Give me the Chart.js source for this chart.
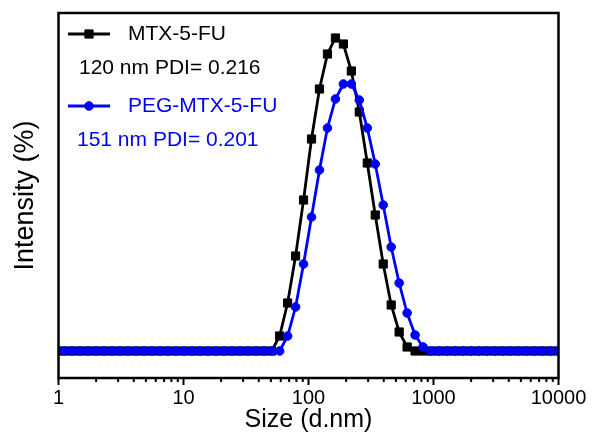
<!DOCTYPE html>
<html>
<head>
<meta charset="utf-8">
<script src="https://cdn.jsdelivr.net/npm/chart.js@4.4.1/dist/chart.umd.min.js"></script>
<style>
  html, body { margin: 0; padding: 0; background: #fff; }
  #wrap { width: 595px; height: 436px; }
</style>
</head>
<body>
<div id="wrap"><canvas id="chartSize"></canvas></div>
<script>
  // size classes (d.nm)
  var sizes = [0.9649, 1.117, 1.294, 1.499, 1.736, 2.010, 2.328, 2.696, 3.122, 3.615,
    4.187, 4.849, 5.615, 6.503, 7.531, 8.721, 10.10, 11.70, 13.54, 15.69,
    18.17, 21.04, 24.36, 28.21, 32.67, 37.84, 43.82, 50.75, 58.77, 68.06,
    78.82, 91.28, 105.7, 122.4, 141.8, 164.2, 190.1, 220.2, 255.0, 295.3,
    342.0, 396.1, 458.7, 531.2, 615.1, 712.4, 825.0, 955.4, 1106, 1281,
    1484, 1718, 1990, 2305, 2669, 3091, 3580, 4145, 4801, 5560,
    6439, 7456, 8635, 10000];

  // intensity (%)
  var mtx = [0, 0, 0, 0, 0, 0, 0, 0, 0, 0,
    0, 0, 0, 0, 0, 0, 0, 0, 0, 0,
    0, 0, 0, 0, 0, 0, 0, 0, 0.75, 2.4,
    4.75, 7.55, 10.6, 13.1, 14.85, 15.65, 15.35, 14.0, 11.95, 9.4,
    6.8, 4.35, 2.3, 0.95, 0.2, 0, 0, 0, 0, 0,
    0, 0, 0, 0, 0, 0, 0, 0, 0, 0,
    0, 0, 0, 0];
  var pegMtx = [0, 0, 0, 0, 0, 0, 0, 0, 0, 0,
    0, 0, 0, 0, 0, 0, 0, 0, 0, 0,
    0, 0, 0, 0, 0, 0, 0, 0, 0, 0.75,
    2.2, 4.35, 6.7, 9.05, 11.15, 12.6, 13.35, 13.35, 12.55, 11.15,
    9.35, 7.3, 5.2, 3.4, 1.9, 0.8, 0.2, 0, 0, 0,
    0, 0, 0, 0, 0, 0, 0, 0, 0, 0,
    0, 0, 0, 0];

  var xTicks = [1, 10, 100, 1000, 10000];
  var legendNames = ["MTX-5-FU", "PEG-MTX-5-FU"];
  var legendNotes = ["120 nm PDI= 0.216", "151 nm PDI= 0.201"];

  var FONT = '"Liberation Sans", Arial, sans-serif';

  function toXY(ys) {
    return sizes.map(function (s, i) { return {x: s, y: ys[i]}; });
  }

  // box round the plot + the ticks under the x axis
  var framePlugin = {
    id: 'frame',
    afterDraw: function (chart) {
      var ctx = chart.ctx;
      var a = chart.chartArea;
      var xs = chart.scales.x;
      ctx.save();
      ctx.strokeStyle = '#000';
      ctx.lineWidth = 2.5;
      ctx.strokeRect(a.left, a.top, a.right - a.left, a.bottom - a.top);
      ctx.lineWidth = 2;
      ctx.beginPath();
      for (var k = 0; k < 4; k++) {
        for (var m = 1; m <= 9; m++) {
          var px = xs.getPixelForValue(m * Math.pow(10, k));
          ctx.moveTo(px, a.bottom);
          ctx.lineTo(px, a.bottom + (m === 1 ? 7 : 4));
        }
      }
      var pEnd = xs.getPixelForValue(10000);
      ctx.moveTo(pEnd, a.bottom);
      ctx.lineTo(pEnd, a.bottom + 7);
      ctx.stroke();
      ctx.restore();
    }
  };

  // legend in the top left corner
  var legendPlugin = {
    id: 'cornerLegend',
    afterDraw: function (chart) {
      var ctx = chart.ctx;
      var rows = [
        {color: '#000000', style: 'rect', radius: 5.8, y: 34, noteX: 79, noteY: 68},
        {color: '#0000ff', style: 'circle', radius: 4.3, y: 106, noteX: 77, noteY: 140}
      ];
      ctx.save();
      rows.forEach(function (r, i) {
        ctx.strokeStyle = r.color;
        ctx.fillStyle = r.color;
        ctx.lineWidth = 2.8;
        ctx.beginPath();
        ctx.moveTo(68, r.y);
        ctx.lineTo(110, r.y);
        ctx.stroke();
        ctx.lineWidth = 1;
        Chart.helpers.drawPoint(ctx, {pointStyle: r.style, radius: r.radius, borderWidth: 1, rotation: 0}, 89, r.y);
        ctx.font = '21px ' + FONT;
        ctx.textBaseline = 'middle';
        ctx.textAlign = 'left';
        ctx.fillText(legendNames[i], 128, r.y);
        ctx.fillText(legendNotes[i], r.noteX, r.noteY);
      });
      ctx.restore();
    }
  };

  new Chart('chartSize', {
    type: 'line',
    data: {
      datasets: [
        {
          label: legendNames[0],
          data: toXY(mtx),
          borderColor: '#000000',
          backgroundColor: '#000000',
          borderWidth: 2.8,
          pointStyle: 'rect',
          pointRadius: 5.8,
          pointBorderWidth: 1,
          order: 1,
          clip: 0
        },
        {
          label: legendNames[1],
          data: toXY(pegMtx),
          borderColor: '#0000ff',
          backgroundColor: '#0000ff',
          borderWidth: 2.8,
          pointStyle: 'circle',
          pointRadius: 4.3,
          pointBorderWidth: 1,
          order: 0,
          clip: 0
        }
      ]
    },
    options: {
      responsive: true,
      maintainAspectRatio: false,
      animation: false,
      layout: {padding: {top: 13, right: 36.5, left: 0, bottom: 0}},
      scales: {
        x: {
          type: 'logarithmic',
          min: 1,
          max: 10000,
          afterFit: function (scale) { scale.height = 58; },
          afterBuildTicks: function (scale) {
            scale.ticks = xTicks.map(function (v) { return {value: v}; });
          },
          grid: {display: false, drawTicks: false},
          border: {display: false},
          ticks: {
            color: '#000',
            padding: 8,
            maxRotation: 0,
            autoSkip: false,
            font: {family: FONT, size: 20},
            callback: function (value) { return String(value); }
          },
          title: {
            display: true,
            text: 'Size (d.nm)',
            color: '#000',
            padding: {top: 0, bottom: 1},
            font: {family: FONT, size: 25}
          }
        },
        y: {
          min: -1.35,
          max: 16.9,
          afterFit: function (scale) { scale.width = 58.5; },
          grid: {display: false, drawTicks: false},
          border: {display: false},
          ticks: {display: false},
          title: {
            display: true,
            text: 'Intensity (%)',
            color: '#000',
            padding: {top: 9, bottom: 0},
            font: {family: FONT, size: 27}
          }
        }
      },
      plugins: {
        legend: {display: false},
        tooltip: {enabled: false}
      }
    },
    plugins: [framePlugin, legendPlugin]
  });
</script>
</body>
</html>
